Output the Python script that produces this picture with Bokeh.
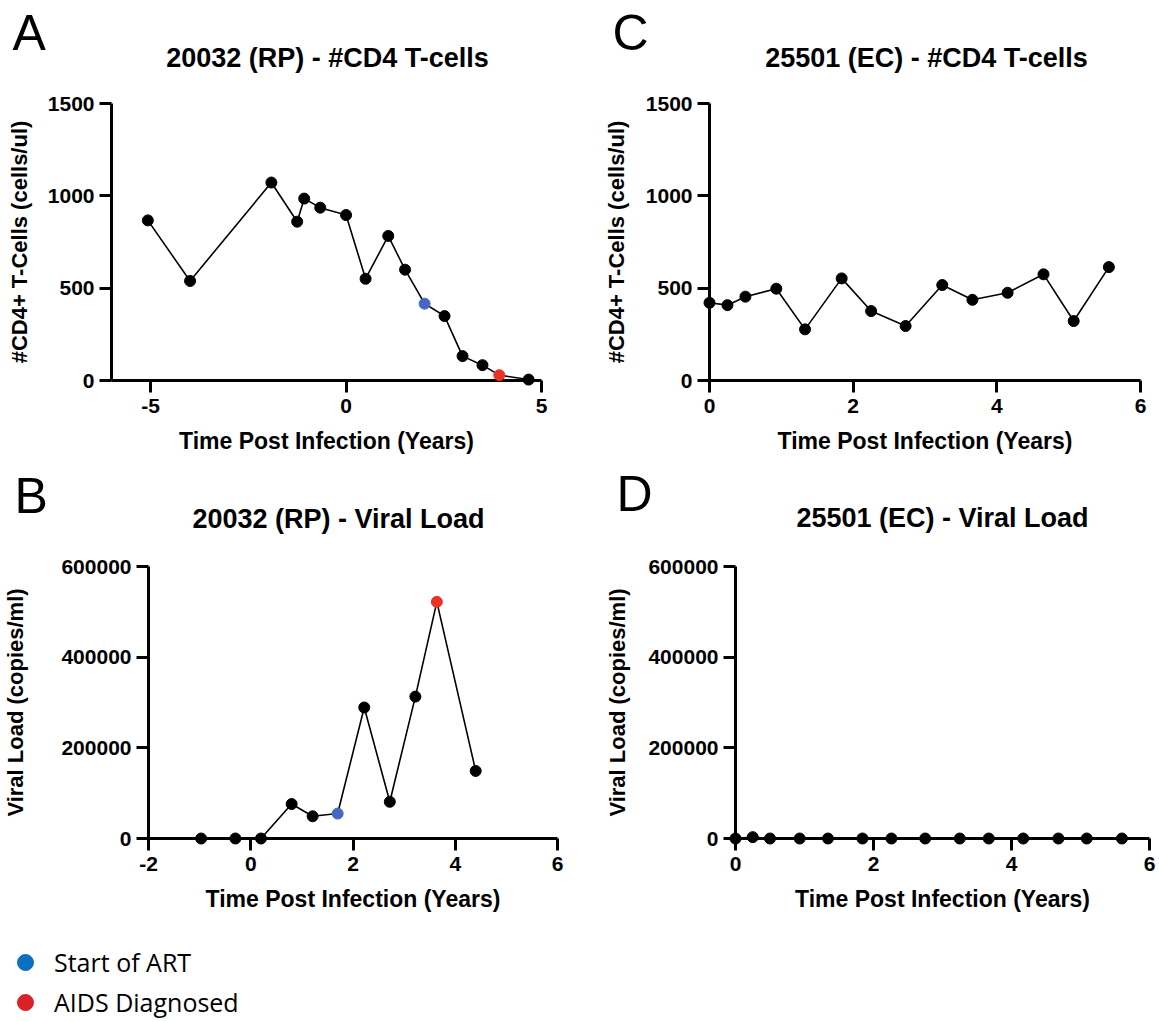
from bokeh.plotting import figure
from bokeh.models import Range1d, FixedTicker, BasicTickFormatter, Label, Legend, LegendItem
from bokeh.layouts import column, row
from bokeh.embed import file_html
from bokeh.resources import INLINE

# ---------------- data ----------------
# Panel A: 20032 (RP) - CD4 counts
a_time = [-5.07, -3.99, -1.91, -1.25, -1.07, -0.66, 0.00, 0.50, 1.08, 1.51, 2.01, 2.52, 2.98, 3.49, 3.92, 4.67]
a_cd4 = [867, 539, 1072, 860, 985, 936, 896, 551, 783, 600, 416, 349, 132, 83, 29, 5]
a_art_idx = 10
a_aids_idx = 14

# Panel B: 20032 (RP) - viral load
b_time = [-0.97, -0.30, 0.20, 0.80, 1.21, 1.70, 2.22, 2.72, 3.22, 3.64, 4.40]
b_vl = [0, 0, 0, 76000, 49000, 55000, 289000, 81000, 313000, 522000, 149000]
b_art_idx = 5
b_aids_idx = 9

# Panel C: 25501 (EC) - CD4 counts
c_time = [0.00, 0.25, 0.50, 0.93, 1.33, 1.84, 2.25, 2.73, 3.24, 3.66, 4.15, 4.65, 5.07, 5.56]
c_cd4 = [421, 408, 454, 497, 277, 553, 376, 295, 517, 437, 475, 575, 322, 614]

# Panel D: 25501 (EC) - viral load
d_time = [0.00, 0.25, 0.50, 0.93, 1.34, 1.84, 2.26, 2.75, 3.25, 3.67, 4.17, 4.68, 5.09, 5.60]
d_vl = [0, 3000, 0, 0, 0, 0, 0, 0, 0, 0, 0, 0, 0, 0]

cd4_ticks = [0, 500, 1000, 1500]
vl_ticks = [0, 200000, 400000, 600000]
a_xticks = [-5, 0, 5]
b_xticks = [-2, 0, 2, 4, 6]
cd_xticks = [0, 2, 4, 6]

panel_letters = ["A", "B", "C", "D"]
titles = ["20032 (RP) - #CD4 T-cells", "20032 (RP) - Viral Load",
          "25501 (EC) - #CD4 T-cells", "25501 (EC) - Viral Load"]
x_label = "Time Post Infection (Years)"
cd4_label = "#CD4+ T-Cells (cells/ul)"
vl_label = "Viral Load (copies/ml)"
legend_labels = ["Start of ART", "AIDS Diagnosed"]

BLUE = "#4468C4"
RED = "#EA3323"
LEG_BLUE = "#0A70C2"
LEG_RED = "#DA2128"
FONT = "Liberation Sans"
LFONT = "Open Sans"
W = 1159


def colors_for(n, art=None, aids=None):
    c = ["black"] * n
    if art is not None:
        c[art] = BLUE
    if aids is not None:
        c[aids] = RED
    return c


def blank(w, h):
    f = figure(width=w, height=h, output_backend="svg", toolbar_location=None,
               x_axis_type=None, y_axis_type=None,
               x_range=Range1d(0, w), y_range=Range1d(0, h),
               min_border_left=0, min_border_right=0, min_border_top=0, min_border_bottom=0)
    f.outline_line_color = None
    return f


def header(h, items):
    # positions are given from the top of the strip
    f = blank(W, h)
    for letter, lx, ly, title, tx, ty in items:
        f.add_layout(Label(x=lx, y=h - ly, text=letter, text_font=FONT, text_font_size="50px",
                           text_color="black", text_baseline="middle", text_align="left"))
        f.add_layout(Label(x=tx, y=h - ty, text=title, text_font=FONT, text_font_style="bold",
                           text_font_size="27px", text_color="black",
                           text_baseline="middle", text_align="center"))
    return f


def panel(w, h, bl, br, bt, bb, xr, yr, xticks, yticks, ylabel, ystand):
    p = figure(width=w, height=h, x_range=Range1d(*xr), y_range=Range1d(*yr),
               output_backend="svg", toolbar_location=None,
               min_border_left=bl, min_border_right=br, min_border_top=bt, min_border_bottom=bb)
    p.outline_line_color = None
    p.xgrid.visible = False
    p.ygrid.visible = False
    p.xaxis.ticker = FixedTicker(ticks=xticks)
    p.xaxis.major_label_overrides = {t: str(t) for t in xticks}
    p.yaxis.ticker = FixedTicker(ticks=yticks)
    p.yaxis.formatter = BasicTickFormatter(use_scientific=False)
    p.xaxis.axis_label = x_label
    p.yaxis.axis_label = ylabel
    for ax in (p.xaxis[0], p.yaxis[0]):
        ax.axis_line_width = 3
        ax.axis_line_color = "black"
        ax.major_tick_line_width = 3
        ax.major_tick_line_color = "black"
        ax.major_tick_out = 12
        ax.major_tick_in = 0
        ax.minor_tick_line_color = None
        ax.major_label_text_font = FONT
        ax.major_label_text_font_style = "bold"
        ax.major_label_text_font_size = "21px"
        ax.major_label_text_color = "black"
        ax.axis_label_text_font = FONT
        ax.axis_label_text_font_style = "bold"
        ax.axis_label_text_color = "black"
    p.xaxis.axis_label_text_font_size = "23px"
    p.yaxis.axis_label_text_font_size = "22px"
    p.xaxis.major_label_standoff = 6
    p.xaxis.axis_label_standoff = 12
    p.yaxis.major_label_standoff = 5
    p.yaxis.axis_label_standoff = ystand
    return p


top_header = header(80, [(panel_letters[0], 12, 32.7, titles[0], 327, 57.5),
                         (panel_letters[2], 612, 32.7, titles[2], 926, 57.5)])
bottom_header = header(80, [(panel_letters[1], 14, 35.7, titles[1], 338, 58.5),
                            (panel_letters[3], 616, 33.7, titles[3], 942, 57.5)])

fA = panel(600, 380, 111, 59, 23, 80, (-6, 5), (0, 1500), a_xticks, cd4_ticks, cd4_label, 13)
fA.line(a_time, a_cd4, line_color="black", line_width=1.6)
fA.scatter(a_time, a_cd4, size=11, color=colors_for(len(a_time), a_art_idx, a_aids_idx), level="overlay")

fC = panel(559, 380, 109, 19, 23, 80, (0, 6), (0, 1500), cd_xticks, cd4_ticks, cd4_label, 14)
fC.line(c_time, c_cd4, line_color="black", line_width=1.6)
fC.scatter(c_time, c_cd4, size=11, color="black", level="overlay")

fB = panel(600, 380, 147, 43, 26, 81, (-2, 6), (0, 600000), b_xticks, vl_ticks, vl_label, 30)
fB.line(b_time, b_vl, line_color="black", line_width=1.6)
fB.scatter(b_time, b_vl, size=11, color=colors_for(len(b_time), b_art_idx, b_aids_idx), level="overlay")

fD = panel(559, 380, 135, 10, 21, 82, (0, 6), (0, 600000), cd_xticks, vl_ticks, vl_label, 15)
fD.line(d_time, d_vl, line_color="black", line_width=1.6)
fD.scatter(d_time, d_vl, size=11, color="black", level="overlay")

# legend strip: key markers reuse the event points of panel B (outside this strip's ranges, so only the key shows)
lf = blank(W, 101)
r1 = lf.scatter(x=[b_time[b_art_idx]], y=[b_vl[b_art_idx]], marker="circle", color=LEG_BLUE)
r2 = lf.scatter(x=[b_time[b_aids_idx]], y=[b_vl[b_aids_idx]], marker="circle", color=LEG_RED)
leg = Legend(items=[LegendItem(label=legend_labels[0], renderers=[r1]),
                    LegendItem(label=legend_labels[1], renderers=[r2])],
             location=(4, -1), glyph_width=42, glyph_height=40, spacing=0, padding=0, margin=0,
             label_standoff=8, border_line_color=None, background_fill_alpha=0,
             label_text_font=LFONT, label_text_font_size="25px", label_text_color="black")
lf.add_layout(leg, "center")

layout = column(top_header, row(fA, fC), bottom_header, row(fB, fD), lf)

with open("out.html", "w") as f:
    f.write(file_html(layout, INLINE))
